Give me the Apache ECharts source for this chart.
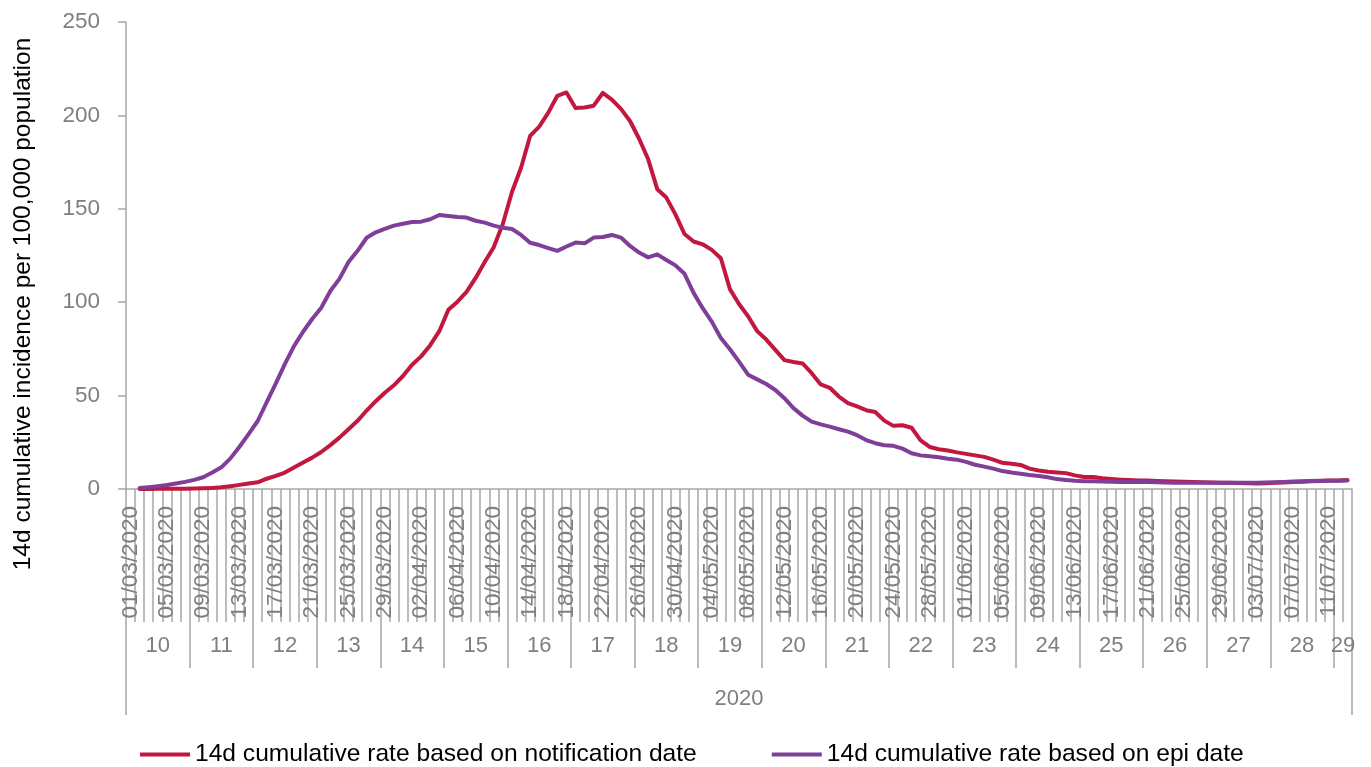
<!DOCTYPE html>
<html>
<head>
<meta charset="utf-8">
<script src="https://cdn.jsdelivr.net/npm/echarts@6/dist/echarts.min.js"></script>
<style>
html,body{margin:0;padding:0;background:#fff;}
#chart{width:1371px;height:767px;}
</style>
</head>
<body>
<div id="chart"></div>
<script>
// ---- data ----
const startDate = [2020, 3, 1]; // 01/03/2020, daily categories
const dayCount = 135;           // 01/03/2020 .. 13/07/2020
const dates = [];
for (let i = 0; i < dayCount; i++) {
  const d = new Date(Date.UTC(startDate[0], startDate[1] - 1, startDate[2] + i));
  const dd = String(d.getUTCDate()).padStart(2, '0');
  const mm = String(d.getUTCMonth() + 1).padStart(2, '0');
  dates.push(dd + '/' + mm + '/' + d.getUTCFullYear());
}

const weekLabels = ['10','11','12','13','14','15','16','17','18','19','20','21','22','23','24','25','26','27','28','29'];
const weekStartDays = [0,7,14,21,28,35,42,49,56,63,70,77,84,91,98,105,112,119,126,133];
const yearLabels = ['2020'];

const seriesNames = ['14d cumulative rate based on notification date', '14d cumulative rate based on epi date'];

const notificationRate = [
  null,0,0,0.1,0.1,0.2,0.2,0.3,0.4,0.6,
  0.9,1.5,2.2,2.9,3.6,5.5,7,8.8,11.5,14.2,
  16.8,19.8,23.5,27.5,32,36.5,42,47,51.5,55.5,
  60.5,66.5,71,77,84.5,96,100.3,105.5,113,121.5,
  129.5,142,159,172,189,194,201.5,210.5,212.3,204,
  204.2,205.2,212,208.5,203.5,197,187.5,176.5,160.5,156,
  147,136.5,132.5,131,128,123.5,107,99,92.5,84.5,
  80,74.5,69,68,67.2,62,56,54.2,49.5,46,
  44.2,42.2,41.2,36.6,33.8,34.1,32.8,26,22.5,21.3,
  20.6,19.6,18.8,18,17.2,15.7,14,13.5,12.9,10.9,
  9.9,9.2,8.8,8.5,7.3,6.4,6.4,5.7,5.3,5,
  4.8,4.6,4.5,4.3,4.2,4,3.9,3.8,3.6,3.5,
  3.4,3.3,3.2,3.1,3,3.1,3.3,3.5,3.7,3.9,
  4.1,4.3,4.5,4.6,4.8
];

const epiRate = [
  null,0.5,1,1.5,2.1,2.9,3.8,4.9,6.3,8.8,
  11.6,16.4,22.6,29.4,36.4,46.5,56.5,67,76.5,84.2,
  91,97,106,112.5,121.5,127.5,134.5,137.4,139.2,141,
  142,142.9,143.1,144.4,146.7,146.2,145.6,145.3,143.6,142.6,
  141,139.8,139.2,136,131.8,130.6,129,127.5,129.8,131.9,
  131.5,134.6,134.9,136,134.6,130.1,126.6,124,125.6,122.6,
  119.7,115.2,105,96.8,89.6,80.8,74.8,68.2,61.2,58.7,
  56.2,53,48.6,43.3,39.3,36.1,34.6,33.4,32,30.7,
  28.8,26.2,24.5,23.4,23.1,21.6,19.1,18,17.5,17,
  16.2,15.7,14.5,13,12,10.9,9.6,8.8,8.2,7.5,
  7,6.3,5.3,4.8,4.4,4.2,4.1,4,3.9,3.8,
  3.8,3.7,3.7,3.6,3.5,3.4,3.4,3.4,3.4,3.4,
  3.4,3.4,3.4,3.4,3.4,3.5,3.6,3.8,4,4.2,
  4.3,4.4,4.4,4.4,4.5
];

// ---- derived axis helpers ----
const weekBounds = weekStartDays.concat([dayCount]);
const weekMids = weekStartDays.map((s, k) => (s + weekBounds[k + 1]) / 2);

const FONT = '"Liberation Sans", Arial, sans-serif';
const GRAY = '#7f7f7f';
const LINE_GRAY = '#a6a6a6';

const chart = echarts.init(document.getElementById('chart'), null, {renderer: 'canvas'});
chart.setOption({
  animation: false,
  backgroundColor: '#ffffff',
  grid: {left: 126, right: 19, top: 22, bottom: 278, containLabel: false},
  legend: {
    left: 135, top: 737,
    icon: 'rect', itemWidth: 50, itemHeight: 4, itemGap: 75,
    textStyle: {fontFamily: FONT, fontSize: 24.6, color: '#000'},
    data: seriesNames
  },
  graphic: [{
    type: 'text', x: 23, y: 304, rotation: Math.PI / 2,
    style: {
      text: '14d cumulative incidence per 100,000 population',
      fontFamily: FONT, fontSize: 24.5, fill: '#000',
      align: 'center', verticalAlign: 'middle'
    }
  }],
  xAxis: [
    {
      type: 'category', data: dates, boundaryGap: true, position: 'bottom',
      axisLine: {show: true, lineStyle: {color: LINE_GRAY, width: 1.5}},
      axisTick: {show: true, interval: 0, length: 133, lineStyle: {color: LINE_GRAY, width: 1.5}},
      axisLabel: {interval: 3, rotate: 90, margin: 17, fontFamily: FONT, fontSize: 22.5, color: GRAY},
      splitLine: {show: false}
    },
    {
      type: 'value', position: 'bottom', offset: 133, min: 0, max: dayCount,
      axisLine: {show: false},
      splitLine: {show: false},
      axisTick: {show: true, length: 46, customValues: weekBounds, lineStyle: {color: LINE_GRAY, width: 1.5}},
      axisLabel: {
        customValues: weekMids, margin: 13, fontFamily: FONT, fontSize: 22, color: GRAY,
        formatter: v => { const k = weekMids.indexOf(v); return k >= 0 ? weekLabels[k] : ''; }
      }
    },
    {
      type: 'value', position: 'bottom', offset: 179, min: 0, max: dayCount,
      axisLine: {show: false},
      splitLine: {show: false},
      axisTick: {show: true, length: 47, customValues: [0, dayCount], lineStyle: {color: LINE_GRAY, width: 1.5}},
      axisLabel: {
        customValues: [dayCount / 2], margin: 20, fontFamily: FONT, fontSize: 22, color: GRAY,
        formatter: () => yearLabels[0]
      }
    }
  ],
  yAxis: {
    type: 'value', min: 0, max: 250, interval: 50,
    axisLine: {show: true, lineStyle: {color: LINE_GRAY, width: 1.5}},
    axisTick: {show: true, length: 8, inside: false, lineStyle: {color: LINE_GRAY, width: 1.5}},
    axisLabel: {margin: 26, fontFamily: FONT, fontSize: 22.5, color: GRAY},
    splitLine: {show: false}
  },
  series: [
    {
      name: seriesNames[0], type: 'line', xAxisIndex: 0, data: notificationRate,
      showSymbol: false, symbol: 'none', smooth: false,
      lineStyle: {color: '#c2173f', width: 4, join: 'round', cap: 'round'},
      itemStyle: {color: '#c2173f'}, z: 3
    },
    {
      name: seriesNames[1], type: 'line', xAxisIndex: 0, data: epiRate,
      showSymbol: false, symbol: 'none', smooth: false,
      lineStyle: {color: '#7f3f98', width: 4, join: 'round', cap: 'round'},
      itemStyle: {color: '#7f3f98'}, z: 4
    }
  ]
});
</script>
</body>
</html>
